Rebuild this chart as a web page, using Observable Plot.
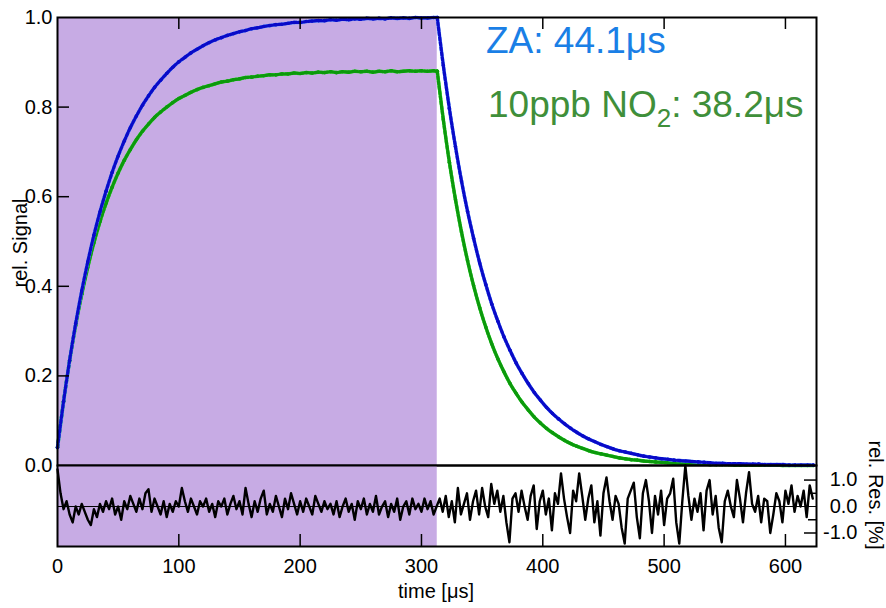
<!DOCTYPE html>
<html><head><meta charset="utf-8">
<script src="https://cdn.jsdelivr.net/npm/d3@7"></script>
<script src="https://cdn.jsdelivr.net/npm/@observablehq/plot@0.6"></script>
<style>
body{margin:0;background:#fff}
#chart{position:relative;width:886px;height:608px;font-family:"Liberation Sans",Arial,sans-serif;overflow:hidden}
#chart svg{position:absolute;left:0;top:0}
.lbl{position:absolute;white-space:nowrap;line-height:1}
</style></head>
<body><div id="chart"></div>
<script>
// ---- data ----
const pumpOff = 313; // end of shaded (excitation) period, µs
const xTicks = [0,100,200,300,400,500,600];
const yTicks = [0,0.2,0.4,0.6,0.8,1.0];
const resTicks = [1,0,-1];
const resMinor = [0.5,-0.5];

const riseTime = [0,5,10,15,20,25,30,35,40,45,
50,55,60,65,70,75,80,85,90,95,
100,105,110,115,120,125,130,135,140,145,
150,155,160,165,170,175,180,185,190,195,
200,205,210,215,220,225,230,235,240,245,
250,255,260,265,270,275,280,285,290,295,
300,305,310,313];
const blueRise = [0.040,0.143,0.235,0.317,0.390,0.455,0.514,0.566,0.612,0.654,
0.691,0.724,0.754,0.780,0.804,0.825,0.844,0.860,0.875,0.889,
0.901,0.911,0.921,0.929,0.937,0.944,0.950,0.955,0.960,0.964,
0.968,0.971,0.975,0.977,0.980,0.982,0.984,0.985,0.987,0.989,
0.989,0.991,0.992,0.993,0.993,0.995,0.994,0.996,0.995,0.997,
0.996,0.998,0.997,0.998,0.997,0.999,0.998,0.999,0.998,1.000,
0.999,0.999,1.000,1.000];
const greenRise = [0.040,0.143,0.234,0.313,0.382,0.443,0.497,0.544,0.585,0.621,
0.653,0.681,0.705,0.727,0.746,0.762,0.777,0.789,0.800,0.810,
0.819,0.826,0.833,0.839,0.844,0.848,0.852,0.856,0.858,0.861,
0.863,0.866,0.867,0.869,0.870,0.872,0.872,0.874,0.874,0.876,
0.875,0.877,0.876,0.878,0.877,0.879,0.877,0.879,0.878,0.880,
0.879,0.880,0.878,0.880,0.879,0.881,0.879,0.880,0.881,0.880,
0.881,0.880,0.881,0.880];

const decayTime = [313,318,323,328,333,338,343,348,353,358,
363,368,373,378,383,388,393,398,403,408,
413,418,423,428,433,438,443,448,453,458,
463,468,473,478,483,488,493,498,503,508,
513,518,523,528,533,538,543,548,553,558,
563,568,573,578,583,588,593,598,603,608,
613,618,623];
const blueDecay = [1.000,0.893,0.797,0.712,0.635,0.567,0.507,0.452,0.404,0.360,
0.322,0.287,0.257,0.229,0.205,0.183,0.163,0.146,0.130,0.116,
0.104,0.093,0.083,0.074,0.066,0.059,0.053,0.047,0.042,0.037,
0.033,0.030,0.027,0.024,0.021,0.019,0.017,0.015,0.014,0.012,
0.011,0.010,0.009,0.008,0.007,0.006,0.005,0.005,0.004,0.004,
0.004,0.003,0.003,0.003,0.002,0.002,0.002,0.002,0.001,0.001,
0.001,0.001,0.001];
const greenDecay = [0.880,0.772,0.677,0.594,0.521,0.457,0.401,0.352,0.309,0.271,
0.238,0.209,0.183,0.161,0.141,0.124,0.108,0.095,0.083,0.073,
0.064,0.056,0.049,0.043,0.038,0.033,0.029,0.026,0.023,0.020,
0.017,0.015,0.013,0.012,0.010,0.009,0.008,0.007,0.006,0.005,
0.005,0.004,0.004,0.003,0.003,0.002,0.002,0.002,0.002,0.001,
0.001,0.001,0.001,0.001,0.001,0.001,0.001,0.000,0.000,0.000,
0.000,0.000,0.000];

const resTime = [0,2.5,5,7.5,10,12.5,15,17.5,20,22.5,
25,27.5,30,32.5,35,37.5,40,42.5,45,47.5,
50,52.5,55,57.5,60,62.5,65,67.5,70,72.5,
75,77.5,80,82.5,85,87.5,90,92.5,95,97.5,
100,102.5,105,107.5,110,112.5,115,117.5,120,122.5,
125,127.5,130,132.5,135,137.5,140,142.5,145,147.5,
150,152.5,155,157.5,160,162.5,165,167.5,170,172.5,
175,177.5,180,182.5,185,187.5,190,192.5,195,197.5,
200,202.5,205,207.5,210,212.5,215,217.5,220,222.5,
225,227.5,230,232.5,235,237.5,240,242.5,245,247.5,
250,252.5,255,257.5,260,262.5,265,267.5,270,272.5,
275,277.5,280,282.5,285,287.5,290,292.5,295,297.5,
300,302.5,305,307.5,310,312.5,
315,317.5,320,322.5,325,327.5,330,332.5,335,337.5,
340,342.5,345,347.5,350,352.5,355,357.5,360,362.5,
365,367.5,370,372.5,375,377.5,380,382.5,385,387.5,
390,392.5,395,397.5,400,402.5,405,407.5,410,412.5,
415,417.5,420,422.5,425,427.5,430,432.5,435,437.5,
440,442.5,445,447.5,450,452.5,455,457.5,460,462.5,
465,467.5,470,472.5,475,477.5,480,482.5,485,487.5,
490,492.5,495,497.5,500,502.5,505,507.5,510,512.5,
515,517.5,520,522.5,525,527.5,530,532.5,535,537.5,
540,542.5,545,547.5,550,552.5,555,557.5,560,562.5,
565,567.5,570,572.5,575,577.5,580,582.5,585,587.5,
590,592.5,595,597.5,600,602.5,605,607.5,610,612.5,
615,617.5,620,622.5];
const residual = [1.4,0.5,-0.1,0.2,-0.3,-0.6,0.0,-0.3,0.1,-0.2,
-0.5,-0.7,-0.1,-0.4,0.1,-0.2,0.2,-0.1,0.3,-0.3,
0.0,-0.5,0.2,-0.1,0.4,0.1,-0.2,0.3,-0.1,0.5,
0.65,-0.2,0.3,0.0,-0.3,0.2,-0.4,0.1,-0.2,0.2,
0.0,0.7,0.2,-0.2,0.3,0.0,-0.3,0.2,0.0,0.3,
-0.2,0.1,-0.4,0.2,0.0,0.3,-0.3,0.1,0.4,-0.1,
0.2,-0.3,0.7,0.1,-0.4,0.2,-0.2,0.3,0.6,-0.3,
0.1,-0.2,0.4,0.0,-0.4,0.3,-0.1,0.5,0.1,-0.3,
0.2,-0.2,0.3,0.0,-0.3,0.4,0.1,-0.2,0.2,-0.1,
0.1,-0.3,0.2,-0.4,0.0,0.3,-0.2,0.1,-0.5,0.2,
-0.1,0.3,-0.3,0.1,-0.2,0.4,-0.3,0.0,0.2,-0.4,
0.1,-0.2,0.3,-0.5,0.0,0.2,-0.3,0.3,-0.1,0.1,
-0.2,0.3,-0.1,0.2,-0.3,0.0,
0.3,-0.2,0.4,-0.4,0.2,-0.6,0.7,-0.3,0.1,0.5,
-0.5,0.2,0.6,-0.3,0.7,0.0,-0.4,0.85,0.1,0.6,
-0.2,0.4,-0.6,-1.35,0.3,0.5,-0.2,0.6,0.0,-0.5,
0.4,0.8,-0.85,0.2,0.6,-0.3,0.3,-0.9,0.5,0.1,
1.25,0.3,-0.4,-1.0,0.6,0.2,1.25,0.4,-0.5,0.3,
0.8,-0.6,0.2,-1.1,0.5,1.1,0.2,-0.5,0.4,0.1,
-0.8,-1.4,0.3,0.6,0.9,-0.4,-1.2,0.5,1.0,0.2,
-1.0,0.4,-0.3,0.6,-0.7,0.3,0.5,1.05,-0.6,-1.4,
0.2,1.55,0.4,-0.5,0.3,-0.2,0.5,-0.9,0.6,1.0,
-0.3,0.4,-0.8,-1.35,0.2,0.6,0.0,-0.4,1.0,0.3,
-0.6,0.5,1.3,0.1,-0.2,0.4,-0.6,0.3,0.2,-1.0,
-0.3,0.5,0.2,-0.6,0.6,0.1,0.8,-0.2,0.4,0.0,
0.6,-0.4,0.8,0.3];

// ---- tables ----
const mk = (times, vals, seg) => times.map((t, i) => ({t, v: vals[i], seg}));
const blueData = [...mk(riseTime, blueRise, "rise"), ...mk(decayTime, blueDecay, "decay")];
const greenData = [...mk(riseTime, greenRise, "rise"), ...mk(decayTime, greenDecay, "decay")];
const resData = resTime.map((t, i) => ({t, v: residual[i]}));
const shade = [{x1: 0, x2: pumpOff}];

// ---- style ----
const W = 886, H = 608, mL = 57, mR = 70;
const xDomain = [0, 625.6];
const font = '"Liberation Sans", Arial, sans-serif';
const purple = "#c7abe4";
const tickLen = 12;
const innerW = W - mL - mR;
const svgStyle = {background: "transparent", fontFamily: font, fontSize: "20px", overflow: "visible"};

function series(data, light, dark) {
  return [
    Plot.line(data, {x: "t", y: "v", z: "seg", stroke: light, strokeWidth: 3.5, curve: "monotone-x"}),
    Plot.line(data, {x: "t", y: "v", z: "seg", stroke: dark, strokeWidth: 3.2, strokeDasharray: "3,2", curve: "monotone-x"}),
    Plot.dot(data, {x: "t", y: "v", r: 1.8, fill: dark, stroke: null})
  ];
}

const topTop = 17, topBottom = 465, botBottom = 546;

const signalPlot = Plot.plot({
  width: W, height: H,
  marginLeft: mL, marginRight: mR, marginTop: topTop, marginBottom: H - topBottom,
  style: svgStyle,
  x: {domain: xDomain, axis: null},
  y: {domain: [0, 1]},
  marks: [
    Plot.rect(shade, {x1: "x1", x2: "x2", fill: purple}),
    ...series(greenData, "#35e035", "#0c990c"),
    ...series(blueData, "#5a96ff", "#0a0ac8"),
    Plot.frame({stroke: "black", strokeWidth: 2}),
    Plot.tickY(yTicks.slice(1, -1), {y: d => d, stroke: "black", strokeWidth: 1.5, insetRight: innerW - tickLen}),
    Plot.tickX(xTicks.slice(1), {x: d => d, stroke: "black", strokeWidth: 1.5, insetBottom: (topBottom - topTop) - tickLen}),
    Plot.axisY({ticks: yTicks, anchor: "left", tickSize: 0, tickPadding: 5, fontSize: 20, label: null, tickFormat: d => d.toFixed(1)})
  ]
});

const resPlot = Plot.plot({
  width: W, height: H,
  marginLeft: mL, marginRight: mR, marginTop: topBottom, marginBottom: H - botBottom,
  style: svgStyle,
  x: {domain: xDomain},
  y: {domain: [-1.51, 1.55]},
  marks: [
    Plot.rect(shade, {x1: "x1", x2: "x2", fill: purple}),
    Plot.ruleY([0], {stroke: "black", strokeWidth: 1}),
    Plot.line(resData, {x: "t", y: "v", stroke: "black", strokeWidth: 2.4, strokeLinejoin: "round"}),
    Plot.frame({stroke: "black", strokeWidth: 2}),
    Plot.tickX(xTicks.slice(1), {x: d => d, stroke: "black", strokeWidth: 1.5, insetTop: (botBottom - topBottom) - tickLen}),
    Plot.tickY(resTicks.filter(d => d !== 0), {y: d => d, stroke: "black", strokeWidth: 1.5, insetLeft: innerW - tickLen}),
    Plot.tickY(resMinor, {y: d => d, stroke: "black", strokeWidth: 1.5, insetLeft: innerW - 8}),
    Plot.axisX({ticks: xTicks, anchor: "bottom", tickSize: 0, tickPadding: 12, fontSize: 20, label: null, tickFormat: d => String(d)}),
    Plot.axisY({ticks: resTicks, anchor: "right", tickSize: 0, tickPadding: 41, textAnchor: "end", fontSize: 20, label: null, tickFormat: d => d.toFixed(1)})
  ]
});

const chart = document.getElementById("chart");
chart.append(signalPlot, resPlot);

function label(html, css) {
  const d = document.createElement("div");
  d.className = "lbl";
  d.innerHTML = html;
  Object.assign(d.style, css);
  chart.append(d);
}
label("rel. Signal", {left: "20px", top: "243px", fontSize: "20px", transform: "translate(-50%,-50%) rotate(-90deg)"});
label("rel. Res. [%]", {left: "876px", top: "495px", fontSize: "20px", transform: "translate(-50%,-50%) rotate(90deg)"});
label("time [μs]", {left: "436px", top: "581px", fontSize: "20px", lineHeight: "20px", transform: "translateX(-50%)"});
label("ZA: 44.1μs", {left: "486px", top: "22px", fontSize: "37px", lineHeight: "37px", color: "#1a7fe6"});
label('10ppb NO<span style="font-size:26px;position:relative;top:10px">2</span>: 38.2μs', {left: "488px", top: "86px", fontSize: "37px", lineHeight: "37px", color: "#3f8f3a"});
</script>
</body></html>
